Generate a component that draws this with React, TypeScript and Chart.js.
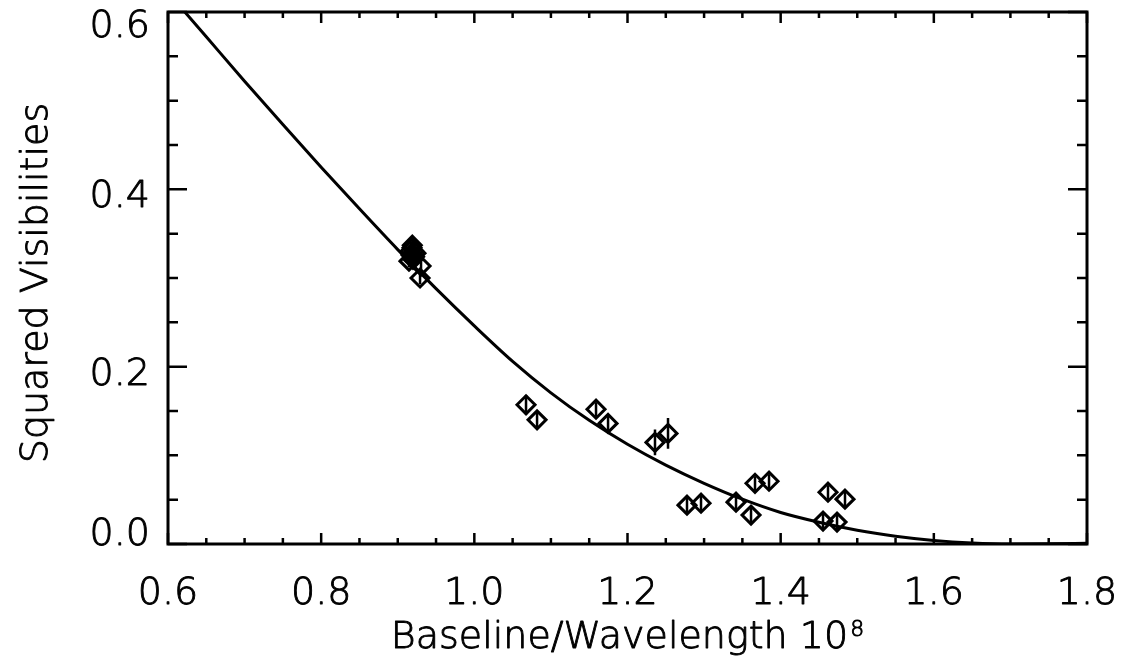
import React, { useEffect, useRef } from "react";
import { Chart, registerables } from "chart.js";

Chart.register(...registerables);

// Model curve
const curveX = [0.6, 0.65, 0.7, 0.75, 0.8, 0.85, 0.9, 0.95, 1.0, 1.05, 1.1, 1.15, 1.2, 1.25, 1.3, 1.35, 1.4, 1.45, 1.5, 1.55, 1.6, 1.65, 1.7, 1.75, 1.8];
const curveY = [0.622, 0.572, 0.522, 0.473, 0.425, 0.378, 0.332, 0.288, 0.246, 0.206, 0.1705, 0.1395, 0.1125, 0.089, 0.0685, 0.0505, 0.0355, 0.0245, 0.0155, 0.0088, 0.004, 0.0012, 0.0001, 0.0003, 0.0009];

// Measured squared visibilities
const pointX = [0.9186, 0.9212, 0.9173, 0.9147, 0.9199, 0.9238, 0.916, 0.922, 0.919, 0.9304, 0.9291, 1.0675, 1.0819, 1.1589, 1.1746, 1.2359, 1.2529, 1.2777, 1.296, 1.3417, 1.3613, 1.3665, 1.3848, 1.4553, 1.4618, 1.4736, 1.484];
const pointY = [0.334, 0.33, 0.326, 0.319, 0.321, 0.328, 0.33, 0.324, 0.337, 0.3135, 0.3, 0.157, 0.14, 0.152, 0.136, 0.1146, 0.1247, 0.0438, 0.046, 0.0472, 0.0326, 0.0685, 0.0708, 0.0258, 0.0584, 0.0247, 0.0506];
const pointErr = [0.007, 0.007, 0.007, 0.007, 0.007, 0.007, 0.007, 0.007, 0.007, 0.007, 0.007, 0.011, 0.008, 0.008, 0.008, 0.0146, 0.0174, 0.008, 0.008, 0.008, 0.008, 0.008, 0.008, 0.008, 0.008, 0.008, 0.008];

// Axes
const xMin = 0.6, xMax = 1.8, yMin = 0, yMax = 0.6;
const xMajorTicks = [0.6, 0.8, 1.0, 1.2, 1.4, 1.6, 1.8];
const xTickLabels = ["0.6", "0.8", "1.0", "1.2", "1.4", "1.6", "1.8"];
const xMinorTicks = [0.65, 0.7, 0.75, 0.85, 0.9, 0.95, 1.05, 1.1, 1.15, 1.25, 1.3, 1.35, 1.45, 1.5, 1.55, 1.65, 1.7, 1.75];
const yMajorTicks = [0.0, 0.2, 0.4, 0.6];
const yTickLabels = ["0.0", "0.2", "0.4", "0.6"];
const yMinorTicks = [0.05, 0.1, 0.15, 0.25, 0.3, 0.35, 0.45, 0.5, 0.55];
const xTitle = "Baseline/Wavelength 10";
const xTitleExp = "8";
const yTitle = "Squared Visibilities";

const FONT = '200 38px "DejaVu Sans"';
const SUP_FONT = '200 22px "DejaVu Sans"';

function drawText(ctx: any, t: string, x: number, y: number) {
  ctx.fillText(t, x, y);
  ctx.strokeText(t, x, y);
}

const framePlugin = {
  id: "idlFrame",
  beforeDatasetsDraw(chart: any) {
    const ctx = chart.ctx;
    const xs = chart.scales.x, ys = chart.scales.y;
    ctx.save();
    ctx.strokeStyle = "#000";
    ctx.lineWidth = 2.5;
    ctx.beginPath();
    for (let i = 0; i < pointX.length; i++) {
      const px = xs.getPixelForValue(pointX[i]);
      ctx.moveTo(px, ys.getPixelForValue(pointY[i] - pointErr[i]));
      ctx.lineTo(px, ys.getPixelForValue(pointY[i] + pointErr[i]));
    }
    ctx.stroke();
    ctx.restore();
  },
  afterDraw(chart: any) {
    const ctx = chart.ctx;
    const a = chart.chartArea;
    const xs = chart.scales.x, ys = chart.scales.y;
    ctx.save();
    ctx.strokeStyle = "#000";
    ctx.fillStyle = "#000";
    ctx.lineWidth = 2.5;
    ctx.beginPath();
    const xTick = (v: number, len: number) => {
      const p = xs.getPixelForValue(v);
      ctx.moveTo(p, a.bottom); ctx.lineTo(p, a.bottom - len);
      ctx.moveTo(p, a.top); ctx.lineTo(p, a.top + len);
    };
    const yTick = (v: number, len: number) => {
      const p = ys.getPixelForValue(v);
      ctx.moveTo(a.left, p); ctx.lineTo(a.left + len, p);
      ctx.moveTo(a.right, p); ctx.lineTo(a.right - len, p);
    };
    xMajorTicks.forEach((v) => xTick(v, 11));
    xMinorTicks.forEach((v) => xTick(v, 6));
    yMajorTicks.forEach((v) => yTick(v, 19));
    yMinorTicks.forEach((v) => yTick(v, 10));
    ctx.stroke();
    ctx.lineWidth = 3;
    ctx.strokeRect(a.left, a.top, a.right - a.left, a.bottom - a.top);

    ctx.lineWidth = 0.9;
    ctx.lineJoin = "round";
    ctx.font = FONT;
    ctx.textBaseline = "alphabetic";
    ctx.textAlign = "center";
    xMajorTicks.forEach((v, i) => {
      drawText(ctx, xTickLabels[i], xs.getPixelForValue(v), a.bottom + 60);
    });
    ctx.textAlign = "right";
    yMajorTicks.forEach((v, i) => {
      const p = ys.getPixelForValue(v);
      const base = Math.min(Math.max(p + 18, a.top + 25), a.bottom + 1);
      drawText(ctx, yTickLabels[i], a.left - 18, base);
    });
    // x title with superscript exponent
    ctx.textAlign = "left";
    const wMain = ctx.measureText(xTitle).width;
    ctx.font = SUP_FONT;
    const wExp = ctx.measureText(xTitleExp).width;
    const startX = (a.left + a.right) / 2 - (wMain + wExp + 2) / 2;
    const baseY = a.bottom + 104;
    ctx.font = FONT;
    drawText(ctx, xTitle, startX, baseY);
    ctx.font = SUP_FONT;
    drawText(ctx, xTitleExp, startX + wMain + 2, baseY - 12);
    // y title
    ctx.font = FONT;
    ctx.textAlign = "center";
    ctx.translate(47, 283);
    ctx.rotate(-Math.PI / 2);
    drawText(ctx, yTitle, 0, 0);
    ctx.restore();
  },
};

export default function App() {
  const ref = useRef<HTMLCanvasElement | null>(null);
  useEffect(() => {
    document.body.style.margin = "0";
    const canvas = ref.current!;
    const chart = new Chart(canvas, {
      type: "scatter",
      data: {
        datasets: [
          {
            type: "line",
            data: curveX.map((x, i) => ({ x, y: curveY[i] })),
            borderColor: "#000",
            borderWidth: 3,
            pointRadius: 0,
            fill: false,
            cubicInterpolationMode: "monotone",
            order: 2,
          },
          {
            type: "scatter",
            data: pointX.map((x, i) => ({ x, y: pointY[i] })),
            pointStyle: "rectRot",
            pointRadius: 9,
            borderWidth: 3,
            borderColor: "#000",
            backgroundColor: "rgba(0,0,0,0)",
            order: 1,
          },
        ],
      },
      options: {
        responsive: false,
        animation: false,
        devicePixelRatio: 1,
        layout: { padding: { left: 168, right: 37, top: 10, bottom: 117 } },
        plugins: { legend: { display: false }, tooltip: { enabled: false } },
        scales: {
          x: { type: "linear", min: xMin, max: xMax, display: false },
          y: { type: "linear", min: yMin, max: yMax, display: false },
        },
      },
      plugins: [framePlugin],
    } as any);
    return () => chart.destroy();
  }, []);
  return (
    <div style={{ position: "fixed", left: 0, top: 0, width: 1124, height: 661, background: "#fff" }}>
      <canvas ref={ref} width={1124} height={661} />
    </div>
  );
}
